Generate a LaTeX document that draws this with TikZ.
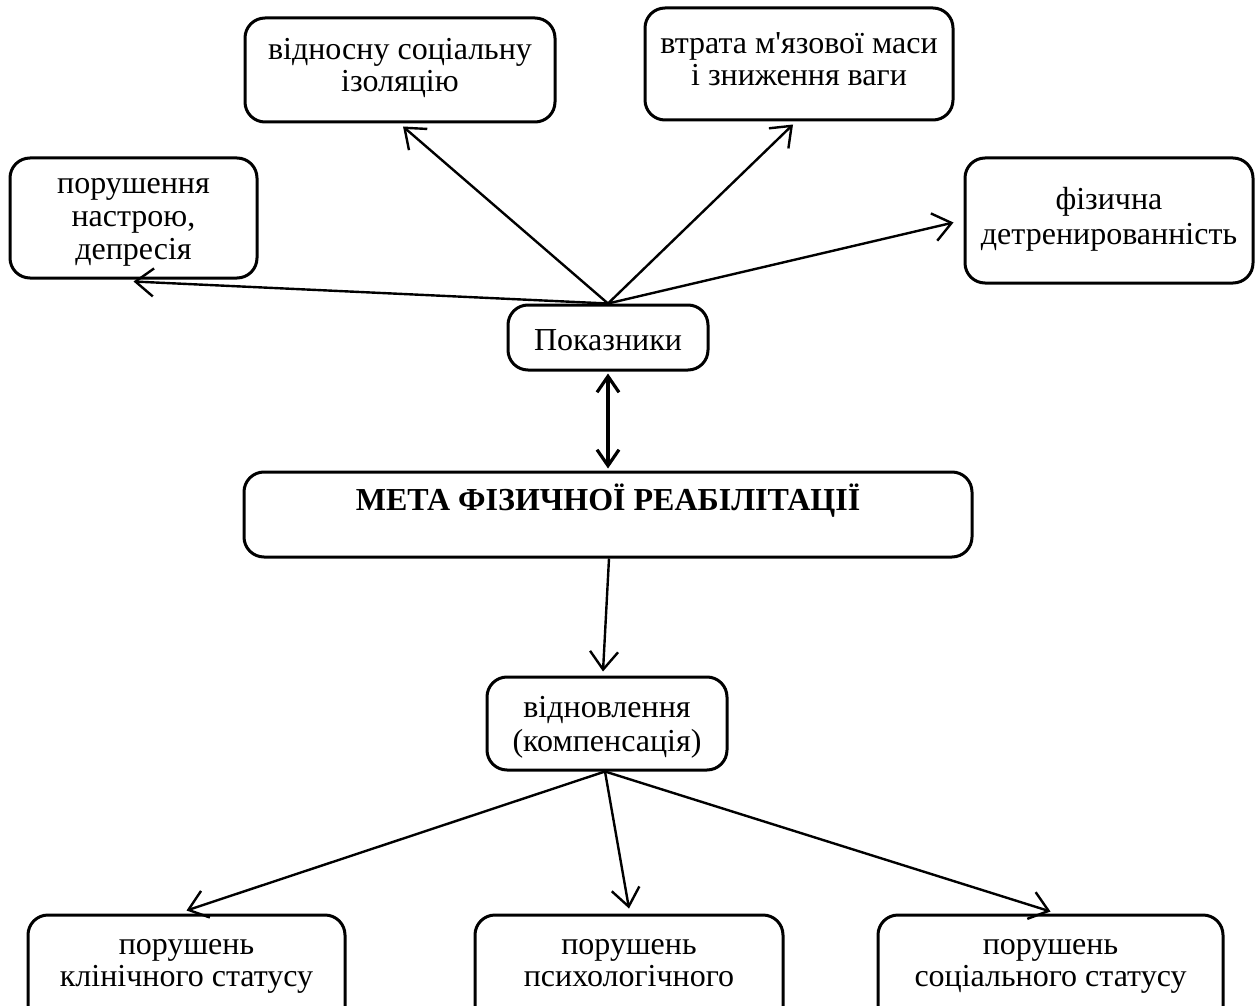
\documentclass[tikz,border=0pt]{standalone}
\usepackage{fontspec}
\setmainfont{Liberation Serif}
\usetikzlibrary{arrows.meta,fit}

\begin{document}
\begin{tikzpicture}[
  x=0.5pt, y=-0.5pt,
  box/.style={draw, line width=1.5pt, rounded corners=10pt, inner sep=0pt},
  lbl/.style={font=\fontsize{16pt}{16pt}\selectfont, align=center, inner sep=0pt},
  link/.style={line width=1.2pt, -{Straight Barb[length=9pt,width=14pt,line width=1.2pt]}},
  both/.style={line width=1.6pt, {Straight Barb[length=8pt,width=11pt,line width=1.6pt]}-{Straight Barb[length=8pt,width=11pt,line width=1.6pt]}}
]
\useasboundingbox (0,0) rectangle (1259,1006);
\clip (0,0) rectangle (1259,1006);

% outer boxes
\node[box, fit={(10,158) (257,278)}] (mood) {};
\node[box, fit={(245,18) (555,122)}] (isol) {};
\node[box, fit={(645,8) (953,120)}] (mass) {};
\node[box, fit={(965,158) (1253,283)}] (detr) {};
\node[box, fit={(508,305) (708,370)}] (ind) {};
\node[box, fit={(244,472) (972,557)}] (goal) {};
\node[box, fit={(487,677) (727,770)}] (rest) {};
\node[box, fit={(28,915) (345,1040)}] (clin) {};
\node[box, fit={(475,915) (783,1040)}] (psy) {};
\node[box, fit={(878,915) (1223,1040)}] (soc) {};

% labels
\node[lbl] (tmood) at (133.5,220) {\strut порушення\\[0.5pt]настрою,\\[0.5pt]депресія\strut};
\node[lbl] (tisol) at (400,69) {\strut відносну соціальну\\ізоляцію\strut};
\node[lbl] (tmass) at (799,63.5) {\strut втрата м\textquotesingle язової маси\\і зниження ваги\strut};
\node[lbl] (tdetr) at (1109,221) {\strut фізична\\[1.5pt]детренированність\strut};
\node[lbl] (tind) at (608,344) {\strut Показники};
\node[lbl, font=\fontsize{16pt}{16pt}\selectfont\bfseries] (tgoal) at (608,502) {\strut МЕТА ФІЗИЧНОЇ РЕАБІЛІТАЦІЇ};
\node[lbl] (trest) at (607,728) {\strut відновлення\\[1pt](компенсація)\strut};
\node[lbl] (tclin) at (186.5,964) {\strut порушень\\клінічного статусу\strut};
\node[lbl] (tpsy) at (629,964) {\strut порушень\\психологічного\strut};
\node[lbl] (tsoc) at (1050.5,964) {\strut порушень\\соціального статусу\strut};

% connectors from the indicators box
\draw[link] (ind.north) -- ([yshift=-1pt]mood.south);
\draw[link] (ind.north) -- ([xshift=1.5pt,yshift=-1.5pt]isol.south);
\draw[link] (ind.north) -- ([xshift=-3pt,yshift=-1.5pt]mass.south);
\draw[link] (ind.north) -- ([xshift=-5pt,yshift=-1pt]detr.west);
\draw[both] ([yshift=-1pt]ind.south) -- ([yshift=1pt]goal.north);

% downward chain
\draw[link] ([xshift=0.5pt]goal.south) -- ([xshift=-2pt,yshift=2pt]rest.north);
\draw[link] ([xshift=-1pt]rest.south) -- ([yshift=1.5pt]clin.north);
\draw[link] ([xshift=-1pt]rest.south) -- ([yshift=2.5pt]psy.north);
\draw[link] ([xshift=-1pt]rest.south) -- ([yshift=1pt]soc.north);
\end{tikzpicture}
\end{document}
